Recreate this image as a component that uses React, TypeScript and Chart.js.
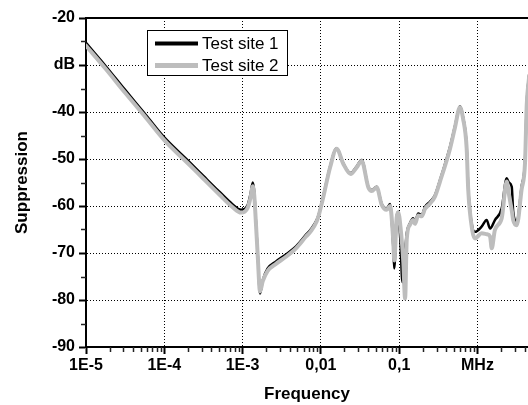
import React, { useEffect, useRef } from 'react';
import { Chart, registerables } from 'chart.js';

Chart.register(...registerables);

// Frequencies in MHz
const FREQ_SITE1 = [
  1.00e-5, 1.78e-5, 3.16e-5, 5.56e-5, 1.00e-4, 2.00e-4, 3.16e-4, 5.01e-4, 7.41e-4, 9.55e-4,
  1.16e-3, 1.26e-3, 1.35e-3, 1.41e-3, 1.45e-3, 1.56e-3, 1.67e-3, 1.81e-3, 2.09e-3, 2.67e-3,
  3.58e-3, 4.81e-3, 6.46e-3, 7.41e-3, 8.83e-3, 9.46e-3, 1.07e-2, 1.31e-2, 1.59e-2, 1.93e-2,
  2.40e-2, 2.86e-2, 3.32e-2, 4.03e-2, 4.46e-2, 5.16e-2, 5.97e-2, 6.92e-2, 7.64e-2, 8.41e-2,
  8.65e-2, 9.29e-2, 9.73e-2, 0.104, 0.110, 0.125, 0.137, 0.151, 0.159, 0.175,
  0.194, 0.214, 0.247, 0.286, 0.332, 0.446, 0.516, 0.598, 0.653, 0.728,
  0.762, 0.859, 0.929, 1.13, 1.31, 1.45, 1.67, 2.04, 2.36, 2.52,
  2.74, 2.86, 3.17, 3.66, 4.05, 4.26, 4.57,
];
const SITE1_DB = [
  -25.3, -30.2, -35.3, -40.2, -45.4, -50.3, -53.6, -56.9, -59.6, -60.8,
  -59.8, -57.5, -55.0, -57.0, -60.5, -70.1, -78.6, -75.8, -73.3, -71.8,
  -70.3, -68.6, -66.1, -65.0, -63.0, -61.6, -58.0, -51.6, -47.7, -50.9,
  -53.0, -51.6, -50.2, -55.9, -56.6, -55.9, -59.5, -60.5, -59.6, -68.7,
  -73.3, -62.3, -61.2, -68.0, -76.2, -65.8, -63.7, -62.6, -63.4, -61.6,
  -61.9, -60.2, -59.1, -57.7, -54.5, -47.4, -43.0, -38.8, -41.0, -47.4,
  -56.0, -64.5, -65.5, -64.4, -63.0, -64.8, -63.0, -60.5, -54.1, -55.0,
  -55.9, -61.2, -63.4, -55.9, -50.2, -38.0, -32.0,
];

const FREQ_SITE2 = [
  1.00e-5, 1.78e-5, 3.16e-5, 5.56e-5, 1.00e-4, 2.00e-4, 3.16e-4, 5.01e-4, 7.41e-4, 9.55e-4,
  1.16e-3, 1.26e-3, 1.35e-3, 1.41e-3, 1.45e-3, 1.56e-3, 1.67e-3, 1.81e-3, 2.09e-3, 2.67e-3,
  3.58e-3, 4.81e-3, 6.46e-3, 7.41e-3, 8.83e-3, 9.46e-3, 1.07e-2, 1.31e-2, 1.59e-2, 1.93e-2,
  2.40e-2, 2.86e-2, 3.32e-2, 4.03e-2, 4.46e-2, 5.16e-2, 5.97e-2, 6.92e-2, 7.64e-2, 8.41e-2,
  8.65e-2, 9.29e-2, 9.73e-2,
  0.104, 0.113, 0.119, 0.125, 0.137, 0.151, 0.159, 0.175, 0.194, 0.214,
  0.247, 0.286, 0.332, 0.446, 0.516, 0.598, 0.653, 0.728, 0.762, 0.859,
  0.929, 1.13, 1.31, 1.45, 1.52, 1.67, 2.04, 2.36, 2.52, 2.74,
  2.86, 3.17, 3.66, 4.05, 4.26, 4.57,
];
const SITE2_DB = [
  -25.9, -30.8, -35.9, -40.8, -46.0, -50.9, -54.2, -57.5, -60.2, -61.4,
  -60.4, -58.3, -55.8, -57.8, -61.0, -70.5, -78.2, -76.0, -73.8, -72.3,
  -70.8, -69.0, -66.5, -65.4, -63.3, -61.8, -58.2, -51.8, -47.8, -51.0,
  -53.2, -51.8, -50.4, -56.0, -56.8, -56.0, -59.7, -60.8, -60.0, -67.5,
  -71.6, -62.5, -61.4,
  -64.5, -72.0, -79.7, -67.0, -64.0, -63.0, -63.8, -62.0, -62.2, -60.6,
  -59.5, -58.0, -54.8, -47.8, -43.3, -39.0, -41.3, -47.8, -56.5, -65.2,
  -66.9, -65.8, -66.0, -66.5, -69.0, -65.1, -62.6, -54.8, -57.5, -60.9,
  -63.0, -64.1, -56.5, -50.8, -38.5, -32.5,
];

const SERIES_LABELS = ['Test site 1', 'Test site 2'];
const X_TICKS = [1e-5, 1e-4, 1e-3, 0.01, 0.1, 1];
const X_TICK_LABELS = ['1E-5', '1E-4', '1E-3', '0,01', '0,1', 'MHz'];
const Y_TICKS = [-90, -80, -70, -60, -50, -40, -30, -20];
const Y_TICK_LABELS = ['-90', '-80', '-70', '-60', '-50', '-40', 'dB', '-20'];
const Y_MINOR = [-85, -75, -65, -55, -45, -35, -25];
const X_MIN = 1e-5;
const X_MAX = 4.42;
const Y_MIN = -90;
const Y_MAX = -20;

const FONT = '"Liberation Sans", Arial, Helvetica, sans-serif';

const framePlugin = {
  id: 'frameAndMinor',
  afterDraw(chart: any) {
    const { ctx, chartArea } = chart;
    const xs = chart.scales.x;
    const ys = chart.scales.y;
    ctx.save();
    ctx.strokeStyle = '#000';
    ctx.lineWidth = 2;
    ctx.beginPath();
    ctx.moveTo(chartArea.left - 1, chartArea.top);
    ctx.lineTo(chartArea.right, chartArea.top);
    ctx.stroke();
    ctx.lineWidth = 1.5;
    ctx.strokeStyle = '#222';
    for (let d = X_MIN; d <= X_MAX; d *= 10) {
      for (let m = 2; m <= 9; m++) {
        const v = m * d;
        if (v > X_MAX) break;
        const px = Math.round(xs.getPixelForValue(v)) + 0.5;
        ctx.beginPath();
        ctx.moveTo(px, chartArea.bottom);
        ctx.lineTo(px, chartArea.bottom + 5);
        ctx.stroke();
      }
    }
    for (const v of Y_MINOR) {
      const py = Math.round(ys.getPixelForValue(v)) + 0.5;
      ctx.beginPath();
      ctx.moveTo(chartArea.left - 5, py);
      ctx.lineTo(chartArea.left, py);
      ctx.stroke();
    }
    ctx.restore();
  },
};

const LEGEND_WIDTHS = [4, 5];

const legendPlugin = {
  id: 'boxLegend',
  afterDraw(chart: any) {
    const { ctx, chartArea } = chart;
    const x0 = chartArea.left + 61;
    const y0 = chartArea.top + 12;
    const w = 141;
    const h = 46;
    ctx.save();
    ctx.fillStyle = '#fff';
    ctx.fillRect(x0, y0, w, h);
    ctx.strokeStyle = '#000';
    ctx.lineWidth = 1;
    ctx.strokeRect(x0 + 0.5, y0 + 0.5, w - 1, h - 1);
    chart.data.datasets.forEach((ds: any, i: number) => {
      const yy = y0 + 13.5 + i * 22;
      ctx.strokeStyle = ds.borderColor;
      ctx.lineWidth = LEGEND_WIDTHS[i];
      ctx.beginPath();
      ctx.moveTo(x0 + 8, yy);
      ctx.lineTo(x0 + 51, yy);
      ctx.stroke();
      ctx.fillStyle = '#000';
      ctx.font = '17px ' + FONT;
      ctx.textBaseline = 'middle';
      ctx.textAlign = 'left';
      ctx.fillText(ds.label, x0 + 55, yy + 1);
    });
    ctx.restore();
  },
};

export default function App() {
  const canvasRef = useRef<HTMLCanvasElement | null>(null);

  useEffect(() => {
    if (!canvasRef.current) return;
    const chart = new Chart(canvasRef.current, {
      type: 'line',
      data: {
        datasets: [
          {
            label: SERIES_LABELS[0],
            data: FREQ_SITE1.map((f, i) => ({ x: f, y: SITE1_DB[i] })),
            borderColor: '#000000',
            borderWidth: 2.5,
            pointRadius: 0,
            fill: false,
            cubicInterpolationMode: 'monotone',
            borderJoinStyle: 'round',
            borderCapStyle: 'round',
            order: 1,
          },
          {
            label: SERIES_LABELS[1],
            data: FREQ_SITE2.map((f, i) => ({ x: f, y: SITE2_DB[i] })),
            borderColor: '#bdbdbd',
            borderWidth: 4,
            pointRadius: 0,
            fill: false,
            cubicInterpolationMode: 'monotone',
            borderJoinStyle: 'round',
            borderCapStyle: 'round',
            order: 0,
          },
        ],
      },
      options: {
        responsive: false,
        animation: false,
        devicePixelRatio: 1,
        layout: { padding: { top: 18, right: 0, bottom: 0, left: 0 } },
        plugins: {
          legend: { display: false },
          tooltip: { enabled: false },
        },
        scales: {
          x: {
            type: 'logarithmic',
            min: X_MIN,
            max: X_MAX,
            afterBuildTicks: (scale: any) => {
              scale.ticks = X_TICKS.map((v) => ({ value: v }));
            },
            afterFit: (scale: any) => {
              scale.height = 58;
            },
            ticks: {
              autoSkip: false,
              maxRotation: 0,
              padding: 2,
              color: '#000',
              font: { family: FONT, size: 16, weight: 'bold' },
              callback: (_v: any, i: number) => X_TICK_LABELS[i],
            },
            grid: {
              color: '#000',
              lineWidth: 1,
              tickLength: 7,
              tickWidth: 2,
              tickColor: '#000',
            },
            border: { display: true, color: '#000', width: 2, dash: [1, 2] },
            title: {
              display: true,
              text: 'Frequency',
              color: '#000',
              font: { family: FONT, size: 17, weight: 'bold' },
              padding: { top: 0, bottom: 0 },
            },
          },
          y: {
            type: 'linear',
            min: Y_MIN,
            max: Y_MAX,
            afterBuildTicks: (scale: any) => {
              scale.ticks = Y_TICKS.map((v) => ({ value: v }));
            },
            afterFit: (scale: any) => {
              scale.width = 86;
            },
            ticks: {
              autoSkip: false,
              padding: 4,
              color: '#000',
              font: { family: FONT, size: 16, weight: 'bold' },
              callback: (_v: any, i: number) => Y_TICK_LABELS[i],
            },
            grid: {
              color: '#000',
              lineWidth: 1,
              tickLength: 7,
              tickWidth: 2,
              tickColor: '#000',
            },
            border: { display: true, color: '#000', width: 2, dash: [1, 2] },
            title: {
              display: true,
              text: 'Suppression',
              color: '#000',
              font: { family: FONT, size: 17, weight: 'bold' },
              padding: { top: 12, bottom: 0 },
            },
          },
        },
      },
      plugins: [framePlugin, legendPlugin],
    } as any);
    return () => chart.destroy();
  }, []);

  return (
    <div style={{ position: 'absolute', left: 0, top: 0, width: 528, height: 405 }}>
      <canvas ref={canvasRef} width={528} height={405} />
    </div>
  );
}
